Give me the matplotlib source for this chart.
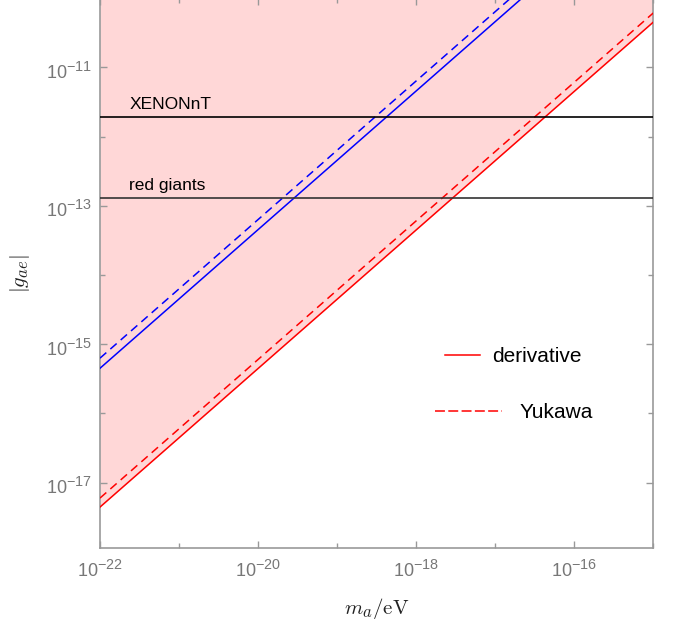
import matplotlib
matplotlib.use("Agg")
import matplotlib.pyplot as plt
import matplotlib._mathtext as _mt
from matplotlib.lines import Line2D
from matplotlib.ticker import FixedLocator, NullFormatter
import matplotlib.transforms as mtransforms

# ---- data ----
mass = [1e-22, 1e-15]                      # m_a / eV
g_derivative_red = [4.45e-18, 4.5e-11]     # red solid
g_yukawa_red = [6.0e-18, 6.1e-11]          # red dashed
g_derivative_blue = [4.5e-16, 4.6e-09]     # blue solid
g_yukawa_blue = [6.3e-16, 6.4e-09]         # blue dashed
xenon_nt = 1.9e-12
red_giants = 1.3e-13
hlines_labels = ["XENONnT", "red giants"]
xlim = (1e-22, 1e-15)
ylim = (1.14e-18, 1e-10)
x_major = [1e-22, 1e-20, 1e-18, 1e-16]
x_major_labels = ["$10^{-22}$", "$10^{-20}$", "$10^{-18}$", "$10^{-16}$"]
x_minor = [1e-21, 1e-19, 1e-17, 1e-15]
y_major = [1e-17, 1e-15, 1e-13, 1e-11]
y_major_labels = ["$10^{-17}$", "$10^{-15}$", "$10^{-13}$", "$10^{-11}$"]
y_minor = [1e-18, 1e-16, 1e-14, 1e-12, 1e-10]

# larger superscripts, like the reference
_mt.SHRINK_FACTOR = 0.8

plt.rcParams["font.family"] = ["Liberation Sans", "DejaVu Sans"]
plt.rcParams["mathtext.fontset"] = "custom"
plt.rcParams["mathtext.rm"] = "Liberation Sans"
plt.rcParams["mathtext.it"] = "Liberation Sans:italic"
plt.rcParams["mathtext.bf"] = "Liberation Sans:bold"

W, H = 683, 622
fig = plt.figure(figsize=(W / 100, H / 100), dpi=100)
ax = fig.add_axes([100 / W, (H - 548) / H, 553.3 / W, 549.9 / H])
ax.set_xscale("log")
ax.set_yscale("log")
ax.set_xlim(*xlim)
ax.set_ylim(*ylim)

pink = "#ffd7d7"
ax.fill_between(mass, g_derivative_red, ax.get_ylim()[1], color=pink, lw=0, zorder=0)

lw = 1.1
dash = (5.5, 3.5)
ax.plot(mass, g_derivative_red, color="#ff0000", lw=lw, zorder=3)
ax.plot(mass, g_yukawa_red, color="#ff0000", lw=lw, dashes=dash, zorder=3)
ax.plot(mass, g_derivative_blue, color="#0000ff", lw=lw, zorder=3)
ax.plot(mass, g_yukawa_blue, color="#0000ff", lw=lw, dashes=dash, zorder=3)

ax.axhline(xenon_nt, color="#000000", lw=1.2, zorder=4)
ax.axhline(red_giants, color="#333333", lw=1.2, zorder=4)
for val, lab in zip([xenon_nt, red_giants], hlines_labels):
    ax.annotate(lab, xy=(2.35e-22, val), xytext=(0, 6), textcoords="offset points",
                ha="left", va="baseline", fontsize=12.5, color="black")

# ticks
gray = "#777777"
spine_gray = "#999999"
ax.xaxis.set_major_locator(FixedLocator(x_major))
ax.xaxis.set_minor_locator(FixedLocator(x_minor))
ax.yaxis.set_major_locator(FixedLocator(y_major))
ax.yaxis.set_minor_locator(FixedLocator(y_minor))
ax.set_xticklabels(x_major_labels)
ax.set_yticklabels(y_major_labels)
ax.xaxis.set_minor_formatter(NullFormatter())
ax.yaxis.set_minor_formatter(NullFormatter())
ax.tick_params(which="both", direction="in", top=True, right=True, color=spine_gray,
               labelcolor=gray, labelsize=13)
ax.tick_params(which="major", length=5, width=1)
ax.tick_params(which="minor", length=3.5, width=1)
ax.tick_params(axis="x", which="major", pad=8)
ax.tick_params(axis="y", which="major", pad=6)
# shift y tick labels slightly downward as in the reference
off = mtransforms.ScaledTranslation(0, -3 / 100, fig.dpi_scale_trans)
for t in ax.get_yticklabels():
    t.set_transform(t.get_transform() + off)
for s in ax.spines.values():
    s.set_color(spine_gray)
    s.set_linewidth(1.2)

ax.set_xlabel(r"$m_a/\mathrm{eV}$", fontsize=15, math_fontfamily="cm", labelpad=11, color="#222222")
ax.set_ylabel(r"$|g_{ae}|$", fontsize=15, math_fontfamily="cm", labelpad=10, color="#222222")

# legends (two, to mimic differing handle lengths)
fs = 15
h1 = Line2D([], [], color="#ff0000", lw=lw)
leg1 = ax.legend([h1], ["derivative"], loc="center left",
                 bbox_to_anchor=((445 - 100) / 553.3, (548 - 357) / 549.9),
                 frameon=False, fontsize=fs, handlelength=1.68, handletextpad=0.58,
                 borderpad=0, borderaxespad=0)
ax.add_artist(leg1)
h2 = Line2D([], [], color="#ff0000", lw=lw, dashes=(6.5, 2.2))
ax.legend([h2], ["Yukawa"], loc="center left",
          bbox_to_anchor=((435 - 100) / 553.3, (548 - 413) / 549.9),
          frameon=False, fontsize=fs, handlelength=3.2, handletextpad=0.86,
          borderpad=0, borderaxespad=0)

fig.savefig("out.png", dpi=100)
